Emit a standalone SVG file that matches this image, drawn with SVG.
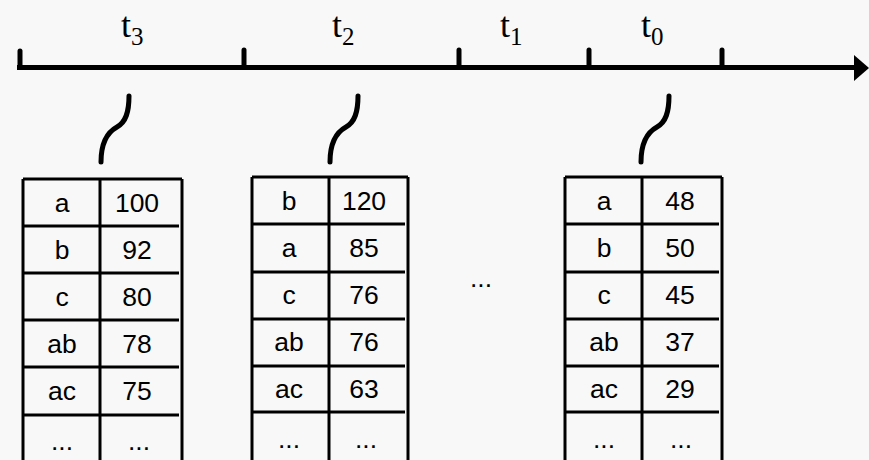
<svg xmlns="http://www.w3.org/2000/svg" width="869" height="460" viewBox="0 0 869 460">
<style>
.axis{stroke:#000;stroke-width:5;fill:none}
.tick{stroke:#000;stroke-width:5;stroke-linecap:round}
.sq{stroke:#000;stroke-width:5;fill:none;stroke-linecap:round}
.grid{stroke:#000;stroke-width:3;fill:none}
.lbl{font-family:"Liberation Serif",serif;font-size:36px;fill:#000}
.sub{font-size:25px}
.cell{font-family:"Liberation Sans",Arial,sans-serif;font-size:26.5px;fill:#000;text-anchor:middle}
</style>
<rect width="869" height="460" fill="#f8f8f8"/>
<g id="axis">
<line class="axis" x1="17" y1="67.5" x2="858" y2="67.5"/>
<polygon points="854,55 869,68 854,81" fill="#000"/>
<line class="tick" x1="20" y1="51" x2="20" y2="67"/>
<line class="tick" x1="244" y1="50" x2="244" y2="67"/>
<line class="tick" x1="459" y1="50" x2="459" y2="67"/>
<line class="tick" x1="589" y1="50" x2="589" y2="67"/>
<line class="tick" x1="722" y1="50" x2="722" y2="67"/>
<text class="lbl" x="121" y="37">t<tspan class="sub" dy="8">3</tspan></text>
<text class="lbl" x="332" y="37">t<tspan class="sub" dy="8">2</tspan></text>
<text class="lbl" x="500" y="37">t<tspan class="sub" dy="8">1</tspan></text>
<text class="lbl" x="641" y="37">t<tspan class="sub" dy="8">0</tspan></text>
</g>
<g id="connectors">
<path class="sq" d="M129,96 C129,112 126,122 117,127 C106,133 101,145 101,162"/>
<path class="sq" d="M358,96 C358,112 355,122 346,127 C335,133 330,145 330,162"/>
<path class="sq" d="M669,96 C669,112 666,122 657,127 C646,133 641,145 641,162"/>
</g>
<g id="table-t3">
<path class="grid" d="M23,179 H182 M23,179 V460 M100,179 V460 M182,179 V460 M23,226 H179 M23,273 H179 M23,320 H179 M23,367 H179 M23,415 H179"/>
<text class="cell" x="62" y="212">a</text><text class="cell" x="137" y="212">100</text>
<text class="cell" x="62" y="259">b</text><text class="cell" x="137" y="259">92</text>
<text class="cell" x="62" y="306">c</text><text class="cell" x="137" y="306">80</text>
<text class="cell" x="62" y="353">ab</text><text class="cell" x="137" y="353">78</text>
<text class="cell" x="62" y="400">ac</text><text class="cell" x="137" y="400">75</text>
<text class="cell" x="62" y="450">...</text><text class="cell" x="139" y="450">...</text>
</g>
<g id="table-t2">
<path class="grid" d="M252,177 H408 M252,177 V460 M329,177 V460 M408,177 V460 M252,224 H405 M252,272 H405 M252,319 H405 M252,366 H405 M252,412 H405"/>
<text class="cell" x="289" y="210">b</text><text class="cell" x="364" y="210">120</text>
<text class="cell" x="289" y="257">a</text><text class="cell" x="364" y="257">85</text>
<text class="cell" x="289" y="304">c</text><text class="cell" x="364" y="304">76</text>
<text class="cell" x="289" y="351">ab</text><text class="cell" x="364" y="351">76</text>
<text class="cell" x="289" y="398">ac</text><text class="cell" x="364" y="398">63</text>
<text class="cell" x="289" y="448">...</text><text class="cell" x="366" y="448">...</text>
</g>
<g id="ellipsis">
<text class="cell" x="481" y="287">...</text>
</g>
<g id="table-t0">
<path class="grid" d="M565,177 H722 M565,177 V460 M642,177 V460 M722,177 V460 M565,224 H719 M565,272 H719 M565,319 H719 M565,366 H719 M565,412 H719"/>
<text class="cell" x="604" y="210">a</text><text class="cell" x="680" y="210">48</text>
<text class="cell" x="604" y="257">b</text><text class="cell" x="680" y="257">50</text>
<text class="cell" x="604" y="304">c</text><text class="cell" x="680" y="304">45</text>
<text class="cell" x="604" y="351">ab</text><text class="cell" x="680" y="351">37</text>
<text class="cell" x="604" y="398">ac</text><text class="cell" x="680" y="398">29</text>
<text class="cell" x="604" y="448">...</text><text class="cell" x="681" y="448">...</text>
</g>
</svg>
